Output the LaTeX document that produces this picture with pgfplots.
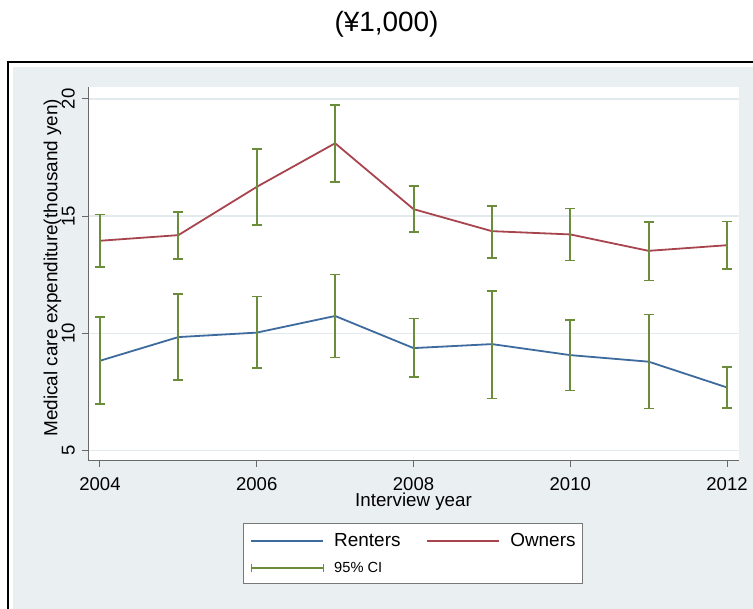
\documentclass[border=0pt]{standalone}
\usepackage{pgfplots}
\pgfplotsset{compat=1.18}
\usepackage{pgfplotstable}
\usepackage{fontspec}
\setmainfont{Liberation Sans}
\definecolor{bgc}{RGB}{234,240,242}
\definecolor{rent}{RGB}{61,107,158}
\definecolor{own}{RGB}{168,68,78}
\definecolor{cig}{RGB}{107,140,58}
\definecolor{gridc}{RGB}{226,234,237}
\definecolor{axc}{RGB}{105,105,105}
\definecolor{legc}{RGB}{120,120,120}

\pgfplotstableread{
year mean lo hi
2004 8.83 6.98 10.71
2005 9.84 8.01 11.67
2006 10.03 8.52 11.57
2007 10.74 8.97 12.51
2008 9.37 8.12 10.63
2009 9.54 7.22 11.82
2010 9.07 7.56 10.57
2011 8.79 6.79 10.80
2012 7.69 6.81 8.55
}\renters

\pgfplotstableread{
year mean lo hi
2004 13.95 12.82 15.07
2005 14.19 13.16 15.19
2006 16.25 14.63 17.88
2007 18.11 16.47 19.76
2008 15.30 14.34 16.28
2009 14.36 13.23 15.44
2010 14.22 13.11 15.33
2011 13.52 12.25 14.76
2012 13.76 12.75 14.77
}\owners

\begin{document}
\begin{tikzpicture}[x=1bp,y=1bp]
\useasboundingbox (0,0) rectangle (753,609);
\fill[white] (0,0) rectangle (753,609);
\fill[bgc] (13,-30) rectangle (790,542);
\draw[black, line width=1.5bp] (8,-40) rectangle (800,547);
\begin{axis}[
  at={(88bp,148bp)}, anchor=south west,
  scale only axis, width=651bp, height=374bp,
  xmin=2003.847, xmax=2012.153, ymin=4.552, ymax=20.512,
  axis background/.style={fill=white},
  axis x line*=bottom, axis y line*=left,
  axis line style={draw=axc, line width=1bp, -},
  tick align=outside, major tick length=6bp,
  tick style={draw=axc, line width=1bp},
  xtick={2004,2006,2008,2010,2012}, ytick={5,10,15,20},
  minor tick num=0,
  ymajorgrids, grid style={draw=gridc, line width=1.5bp},
  /pgf/number format/assume math mode=true,
  /pgf/number format/1000 sep={},
  ticklabel style={font=\fontsize{18.6}{21}\selectfont},
  yticklabel style={rotate=90, anchor=south, inner sep=0pt},
  yticklabel shift=7bp,
  xticklabel style={anchor=north, inner sep=0pt},
  xticklabel shift=10bp,
  xlabel={Interview year},
  xlabel style={at={(axis description cs:0.5,-0.1215)}, anchor=base, inner sep=0pt, font=\fontsize{18.8}{21}\selectfont},
  ylabel={Medical care expenditure(thousand yen)},
  ylabel style={at={(axis description cs:-0.0545,0.517)}, anchor=center, inner sep=0pt, font=\fontsize{19}{22}\selectfont},
  title={(¥1,000)},
  title style={at={(axis description cs:0.4585,1.1324)}, anchor=base, inner sep=0pt, font=\fontsize{28}{32}\selectfont},
  legend columns=2,
  legend cell align=left,
  legend style={at={(axis description cs:0.238,-0.1658)}, anchor=north west,
    draw=legc, line width=1bp, fill=white, inner xsep=7bp, inner ysep=10bp,
    row sep=14bp, column sep=10bp,
    /tikz/every even column/.append style={column sep=26bp},
    nodes={inner sep=0pt, font=\fontsize{19}{22}\selectfont}},
]
\addplot[rent, line width=1.8bp, line join=round, mark=none,
  legend image code/.code={\draw[rent, line width=1.8bp] (0bp,0bp)--(72bp,0bp);}]
  table[x=year, y=mean]{\renters};
\addlegendentry{Renters}
\addplot[own, line width=1.8bp, line join=round, mark=none,
  legend image code/.code={\draw[own, line width=1.8bp] (0bp,0bp)--(72bp,0bp);}]
  table[x=year, y=mean]{\owners};
\addlegendentry{Owners}
\addplot[draw=none, mark=none,
  legend image code/.code={\draw[cig, line width=1.6bp] (0bp,0bp)--(72bp,0bp) (0bp,-4bp)--(0bp,4bp) (72bp,-4bp)--(72bp,4bp);},
  error bars/.cd, y dir=both, y explicit,
  error bar style={draw=cig, line width=2bp},
  error mark=|, error mark options={draw=cig, line width=1.8bp, mark size=5bp}]
  table[x=year, y=mean, y error plus expr=\thisrow{hi}-\thisrow{mean}, y error minus expr=\thisrow{mean}-\thisrow{lo}]{\renters};
\addlegendentry{{\fontsize{14.7}{17}\selectfont 95\% CI}}
\addplot[draw=none, mark=none, forget plot,
  error bars/.cd, y dir=both, y explicit,
  error bar style={draw=cig, line width=2bp},
  error mark=|, error mark options={draw=cig, line width=1.8bp, mark size=5bp}]
  table[x=year, y=mean, y error plus expr=\thisrow{hi}-\thisrow{mean}, y error minus expr=\thisrow{mean}-\thisrow{lo}]{\owners};
\end{axis}
\end{tikzpicture}
\end{document}
